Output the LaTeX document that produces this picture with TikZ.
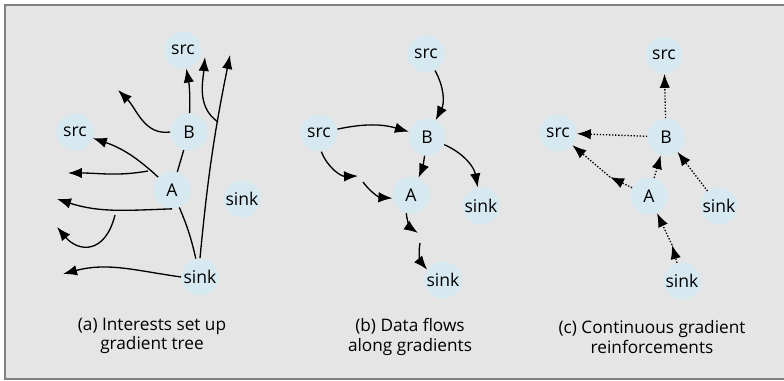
\documentclass[tikz,border=0pt]{standalone}
\usepackage{fontspec}
\setmainfont{Open Sans}
\usepackage{tikz}
\usetikzlibrary{arrows.meta, calc, positioning}
\usepackage{xcolor}
\definecolor{panelgray}{rgb}{0.90, 0.90, 0.90}
\definecolor{framegray}{rgb}{0.50, 0.50, 0.50}
\definecolor{nodeblue}{rgb}{0.84, 0.91, 0.94}

\begin{document}
\begin{tikzpicture}[x=0.02cm, y=-0.02cm, >={Latex[length=2.8mm,width=2.1mm]}]
        \tikzstyle{dot}=[circle, fill=nodeblue, inner sep=0pt, minimum size=0.74cm, font=\fontsize{10}{12}\selectfont]
        \tikzstyle{flow}=[->, line width=0.75pt]
        \tikzstyle{link}=[line width=0.75pt]
        \tikzstyle{reinf}=[->, line width=0.75pt, densely dotted]
        \tikzstyle{caption}=[align=center, font=\fontsize{9.8}{11.2}\selectfont]
        \useasboundingbox (0,0) rectangle (784,381);

        % Panel background and frame
        \fill[panelgray] (5,5) rectangle (784,379);
        \draw[framegray, line width=1.1pt] (784,5) -- (5,5) -- (5,379) -- (784,379);

        % --- (a) Interests set up gradient tree ---
        \node[dot] (srcTa) at (183,50) {src};
        \node[dot] (srcLa) at (75,132) {src};
        \node[dot] (Ba) at (189,132) {B};
        \node[dot] (Aa) at (172,190) {A};
        \node[dot] (sinkRa) at (242,199) {sink};
        \node[dot] (sinkBa) at (200,277) {sink};

        % Free ends and branch points
        \coordinate (tipBa) at (118,90);
        \coordinate (tipLong) at (230,55);
        \coordinate (forkLong) at (218,122);
        \coordinate (tipFork) at (205,57);
        \coordinate (forkA) at (148,171);
        \coordinate (tipForkA) at (68,173);
        \coordinate (tipA) at (57,199);
        \coordinate (forkLow) at (115,215);
        \coordinate (tipLow) at (57,227);
        \coordinate (tipSink) at (63,274);

        \draw[flow] (Ba) to[bend right=6] (srcTa);
        \draw[flow] (Ba.west) to[out=188,in=-45] (tipBa);
        \draw[flow] (sinkBa.north) to[bend left=3] (tipLong);
        \draw[flow] (forkLong) to[out=145,in=-95] (tipFork);
        \draw[link] (Aa) -- (Ba);
        \draw[flow] (Aa) to[bend right=12] (srcLa);
        \draw[flow] (forkA) to[out=190,in=0] (tipForkA);
        \draw[link] (sinkBa) to[bend right=5] (Aa);
        \draw[flow] (Aa.south) to[out=182,in=-18] (tipA);
        \draw[flow] (forkLow) .. controls (105,255) and (78,252) .. (tipLow);
        \draw[flow] (sinkBa.west) to[out=172,in=15] (tipSink);

        \node[caption] (capa) at (152,336) {(a) Interests set up\\gradient tree};

        % --- (b) Data flows along gradients ---
        \node[dot] (srcTb) at (426,54) {src};
        \node[dot] (srcLb) at (319,133) {src};
        \node[dot] (Bb) at (427,137) {B};
        \node[dot] (Ab) at (411,195) {A};
        \node[dot] (sinkRb) at (481,206) {sink};
        \node[dot] (sinkBb) at (443,280) {sink};

        \coordinate (midLb) at (358,176);
        \coordinate (startLb) at (363,182);
        \coordinate (midAb) at (418,233);
        \coordinate (startAb) at (420,243);

        \draw[flow] (srcTb) to[bend left=28] (Bb);
        \draw[flow] (srcLb) to[bend left=14] (Bb);
        \draw[flow] (Bb) to[bend left=8] (Ab);
        \draw[flow] (Bb) to[bend left=28] (sinkRb);
        \draw[flow] (srcLb) to[bend right=35] (midLb);
        \draw[flow] (startLb) to[bend right=25] (Ab);
        \draw[flow] (Ab) to[bend right=25] (midAb);
        \draw[flow] (startAb) to[bend right=25] (sinkBb);

        \node[caption] (capb) at (410,337) {(b) Data flows\\along gradients};

        % --- (c) Continuous gradient reinforcements ---
        \node[dot] (srcTc) at (664,55) {src};
        \node[dot] (srcLc) at (558,133) {src};
        \node[dot] (Bc) at (666,137) {B};
        \node[dot] (Ac) at (649,196) {A};
        \node[dot] (sinkRc) at (719,206) {sink};
        \node[dot] (sinkBc) at (682,281) {sink};

        \coordinate (midAc) at (610,177);
        \coordinate (midSc) at (672,245);

        \draw[reinf] (Bc) -- (srcTc);
        \draw[reinf] (Bc) -- (srcLc);
        \draw[reinf] (Ac) -- (midAc);
        \draw[reinf] (midAc) -- (srcLc);
        \draw[reinf] (Ac) -- (Bc);
        \draw[reinf] (sinkRc) -- (Bc);
        \draw[reinf] (sinkBc) -- (midSc);
        \draw[reinf] (midSc) -- (Ac);

        \node[caption] (capc) at (652,337) {(c) Continuous gradient\\reinforcements};
    \end{tikzpicture}
\end{document}
